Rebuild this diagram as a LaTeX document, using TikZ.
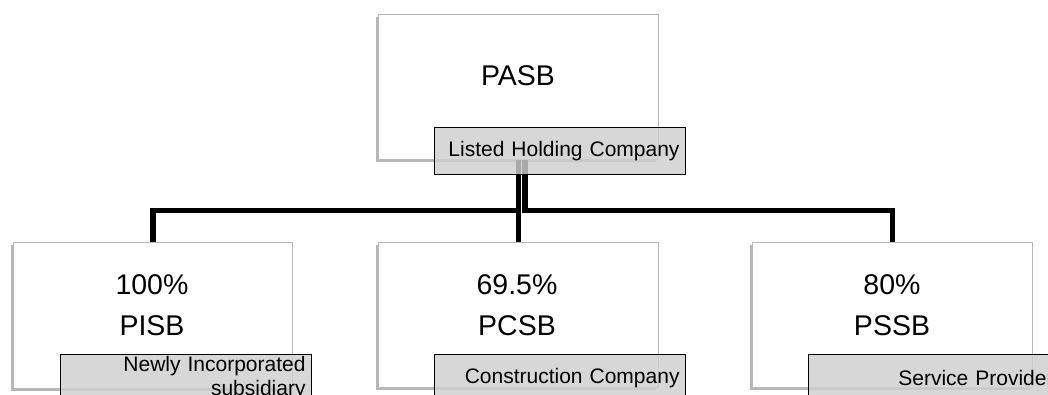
\documentclass[tikz,border=0pt]{standalone}
\usepackage{fontspec}
\setmainfont{Liberation Sans}
\begin{document}
\begin{tikzpicture}[x=1pt,y=-1pt,
  entity/.style={draw=gray!55, line width=1.3pt, fill=white, anchor=north west,
    minimum width=280pt, minimum height=145pt, inner sep=0pt},
  shadowbox/.style={fill=gray!75, fill opacity=0.75, draw=none, anchor=north west,
    minimum width=280pt, minimum height=145pt, inner sep=0pt},
  tag/.style={draw=black, line width=1.1pt, fill=gray!38, fill opacity=0.82, text opacity=1,
    anchor=north west, minimum width=251pt, minimum height=47pt, inner xsep=6pt, inner ysep=0pt,
    text width=239pt, align=right, font=\fontsize{21}{24}\selectfont},
  big/.style={anchor=base, inner sep=0pt, font=\fontsize{28.5}{34}\selectfont},
  conn/.style={draw=black, line width=5.5pt, line join=miter, line cap=butt}]
\useasboundingbox (0,0) rectangle (1048,394);
\clip (0,0) rectangle (1048,394);
\fill[white] (0,0) rectangle (1048,394);

% shadows
\node[shadowbox] (pasbsh) at (376,17) {};
\node[shadowbox, minimum width=279pt, minimum height=146pt] (pisbsh) at (11,245) {};
\node[shadowbox] (pcsbsh) at (376,245) {};
\node[shadowbox] (pssbsh) at (750,245) {};

% boxes
\node[entity] (pasb) at (378,14) {};
\node[entity, minimum width=279pt, minimum height=146pt] (pisb) at (13,242) {};
\node[entity] (pcsb) at (378,242) {};
\node[entity] (pssb) at (752,242) {};

% connectors
\coordinate (pasbr) at ([xshift=6.5pt]pasb.south);
\draw[conn] (pasb.south) -- ++(0,50) -| (pisb.north);
\draw[conn] (pasbr) -- ++(0,50) -| (pssb.north);
\draw[conn] (pasb.south) -- (pcsb.north);

% labels
\node[tag] (pasbtag) at (434,127) {Listed Holding Company};
\node[tag] (pisbtag) at (60,354) {Newly Incorporated\\subsidiary};
\node[tag] (pcsbtag) at (434,354) {Construction Company};
\node[tag] (pssbtag) at (808,354) {Service Provider};

% main texts
\node[big] (pasbname) at (518,85) {PASB};
\node[big] (pisbpct) at (152,294) {100\%};
\node[big] (pisbname) at (152,335) {PISB};
\node[big] (pcsbpct) at (517,294) {69.5\%};
\node[big] (pcsbname) at (517,335) {PCSB};
\node[big] (pssbpct) at (892,294) {80\%};
\node[big] (pssbname) at (892,335) {PSSB};
\end{tikzpicture}
\end{document}
